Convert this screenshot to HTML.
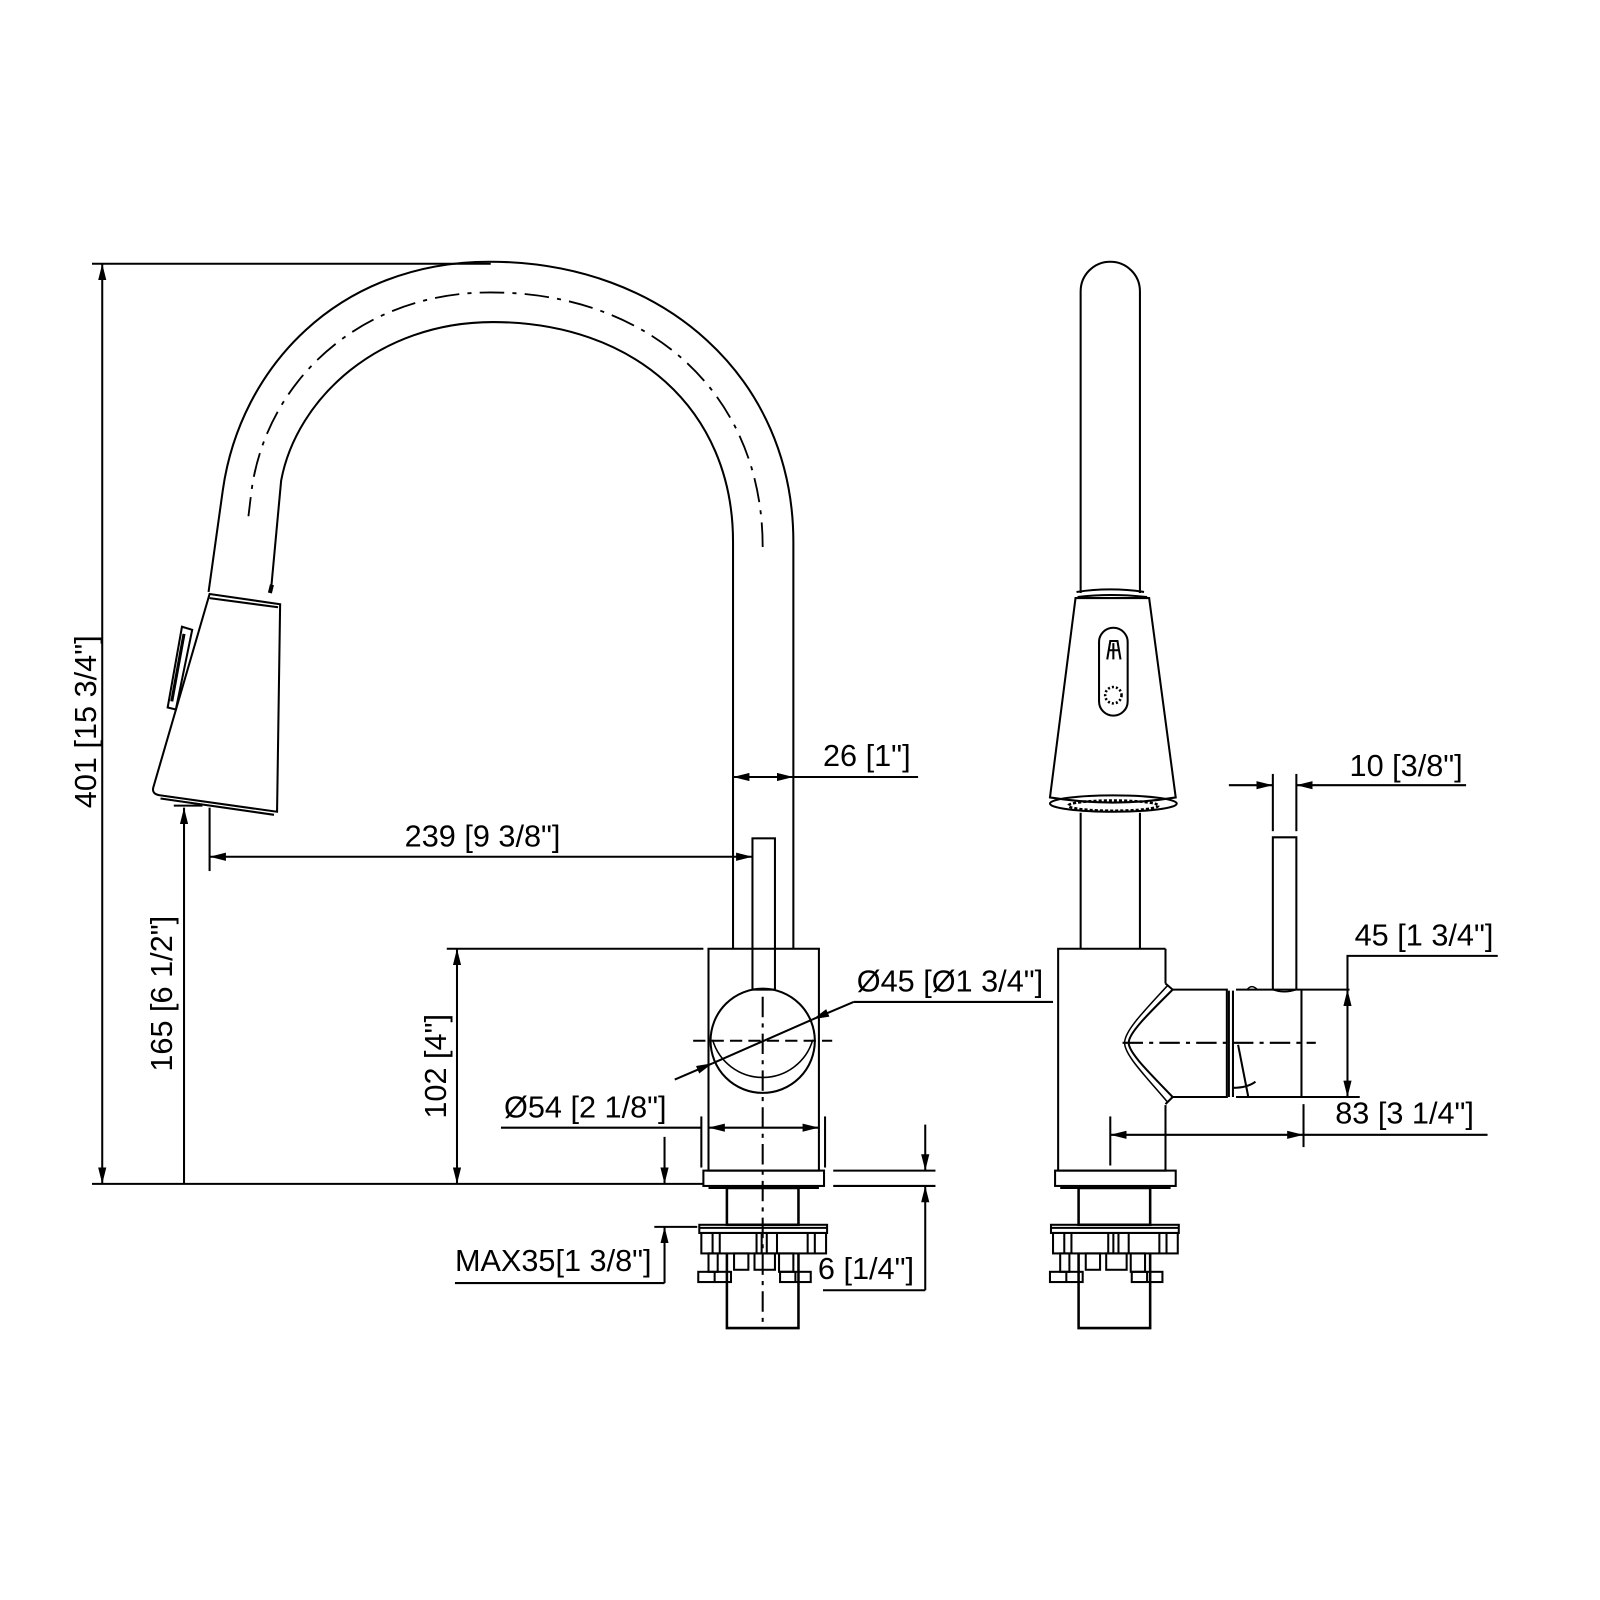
<!DOCTYPE html>
<html><head><meta charset="utf-8"><style>html,body{margin:0;padding:0;background:#fff}svg{display:block}text{font-family:"Liberation Sans",sans-serif;font-size:30px;fill:#000}</style></head>
<body>
<svg width="1600" height="1600" viewBox="0 0 1565 1565" xmlns="http://www.w3.org/2000/svg">
<defs>
<marker id="a" viewBox="0 0 16 8" refX="16" refY="4" markerWidth="16" markerHeight="8" markerUnits="userSpaceOnUse" orient="auto-start-reverse"><path d="M0,0 L16,4 L0,8 Z" fill="#000"/></marker>
<g id="mount" fill="none" stroke="#000" stroke-width="2">
<rect x="688" y="1145" width="118" height="15"/>
<line x1="693" y1="1162" x2="801" y2="1162"/>
<rect x="711" y="1162" width="70" height="36" stroke-width="2.5"/>
<rect x="684" y="1198" width="125" height="8"/>
<line x1="684" y1="1201" x2="809" y2="1201"/>
<rect x="686" y="1206" width="122" height="20"/>
<path d="M697,1206v20M704,1206v20M740,1206v20M745,1206v20M750,1206v20M760,1206v20M790,1206v20M797,1206v20"/>
<rect x="693" y="1226" width="9" height="18"/><rect x="683" y="1244" width="32" height="10"/><line x1="699" y1="1244" x2="699" y2="1254"/>
<rect x="718" y="1226" width="14" height="16"/>
<rect x="738" y="1226" width="20" height="16"/>
<rect x="762" y="1226" width="14" height="18"/><rect x="763" y="1244" width="30" height="10"/><line x1="778" y1="1244" x2="778" y2="1254"/>
<path d="M711,1226 V1299 H781 V1226" stroke-width="2.5"/>
</g>
</defs>
<g fill="none" stroke="#000" stroke-width="2">
<!-- LEFT VIEW -->
<path d="M776,928 L776,530 C776,370 650,256 479,256 C330,256 235,360 218,479 L204,579"/>
<path d="M717,928 L717,530 C717,400 620,315 482,315 C370,315 290,390 275,470 L265,578"/>
<path d="M746,535 C746,385 635,286 480,286 C350,286 260,375 246,480 L243,505" stroke-dasharray="24,8,4,8" stroke-width="1.8"/>
<path d="M266,572 l-2,8" stroke-width="4"/>
<path d="M205,581 L274,591 L271,794 L157,778 Q148,777 150,770 Z"/>
<path d="M205,585 L272,594"/>
<path d="M157,781 L268,797"/>
<path d="M178,613 L188,616 L172,694 L164,692 Z"/>
<path d="M180,620 L168,686" stroke-width="3"/>
<rect x="736" y="820" width="22" height="148"/>
<rect x="693" y="928" width="108" height="217"/>
<circle cx="746" cy="1018" r="51"/>
<path d="M697,1013 A51,51 0 0 0 795,1013" stroke-width="1.5" transform="translate(0,4)"/>
<line x1="678" y1="1018" x2="814" y2="1018" stroke-dasharray="12,6"/>
<line x1="746" y1="975" x2="746" y2="1300" stroke-dasharray="20,6,4,6"/>
<use href="#mount"/>
<!-- left dims -->
<line x1="90" y1="258" x2="480" y2="258"/>
<line x1="90" y1="1158" x2="688" y2="1158"/>
<line x1="100" y1="258" x2="100" y2="1158" marker-start="url(#a)" marker-end="url(#a)"/>
<line x1="170" y1="788" x2="198" y2="788"/>
<line x1="180" y1="790" x2="180" y2="1158" marker-start="url(#a)"/>
<line x1="437" y1="928" x2="688" y2="928"/>
<line x1="447" y1="928" x2="447" y2="1158" marker-start="url(#a)" marker-end="url(#a)"/>
<line x1="205" y1="790" x2="205" y2="852"/>
<line x1="205" y1="838" x2="736" y2="838" marker-start="url(#a)" marker-end="url(#a)"/>
<line x1="717" y1="760" x2="776" y2="760" marker-start="url(#a)" marker-end="url(#a)"/>
<line x1="776" y1="760" x2="898" y2="760"/>
<line x1="660" y1="1056" x2="697" y2="1040" marker-end="url(#a)"/>
<line x1="697" y1="1040" x2="795" y2="997"/>
<line x1="835" y1="980" x2="795" y2="997" marker-end="url(#a)"/>
<line x1="835" y1="980" x2="1030" y2="980"/>
<line x1="686" y1="1092" x2="686" y2="1142"/><line x1="807" y1="1092" x2="807" y2="1142"/>
<line x1="490" y1="1103" x2="686" y2="1103"/>
<line x1="693" y1="1103" x2="801" y2="1103" marker-start="url(#a)" marker-end="url(#a)"/>
<line x1="650" y1="1112" x2="650" y2="1158" marker-end="url(#a)"/>
<line x1="640" y1="1200" x2="682" y2="1200"/>
<line x1="650" y1="1255" x2="650" y2="1200" marker-end="url(#a)"/>
<line x1="445" y1="1255" x2="650" y2="1255"/>
<line x1="815" y1="1145" x2="915" y2="1145"/><line x1="815" y1="1160" x2="915" y2="1160"/>
<line x1="905" y1="1100" x2="905" y2="1145" marker-end="url(#a)"/>
<line x1="905" y1="1262" x2="905" y2="1160" marker-end="url(#a)"/>
<line x1="805" y1="1262" x2="905" y2="1262"/>

<!-- RIGHT VIEW -->
<path d="M1057,580 L1057,285 A29,29 0 0 1 1115,285 L1115,580"/>
<path d="M1053,579 Q1086,574 1119,579 M1054,584 Q1086,580 1122,584"/>
<path d="M1052,585 L1124,585 L1150,780 Q1089,790 1027,780 Z"/>
<ellipse cx="1089" cy="786" rx="62" ry="8"/>
<ellipse cx="1089" cy="788" rx="44" ry="5" stroke-dasharray="3,2" stroke-width="2.5"/>
<rect x="1075" y="614" width="28" height="86" rx="14"/>
<path d="M1083,645 L1086,627 H1093 L1096,645 M1089,629 V645 M1085,636 H1094" stroke-width="2"/>
<circle cx="1089" cy="680" r="8" stroke-dasharray="2,2" stroke-width="2.5"/>
<line x1="1057" y1="795" x2="1057" y2="928"/><line x1="1115" y1="795" x2="1115" y2="928"/>
<path d="M1140,928 H1035 V1145 H1140 V1081"/>
<path d="M1140,928 V962"/>
<path d="M1140,962 L1147,968 L1200,968 L1200,1073 L1147,1073 L1140,1080"/>
<path d="M1147,968 C1125,990 1104,1010 1104,1020 C1104,1030 1125,1050 1147,1073"/>
<path d="M1142,964 C1120,988 1100,1008 1100,1020 C1100,1032 1120,1052 1142,1078" stroke-width="1.5"/>
<path d="M1202,969 V1073 M1206,969 V1073 M1206,1064 Q1220,1064 1228,1058"/>
<path d="M1209,968 H1320 M1209,1073 H1330 M1273,968 V1073 M1211,1022 L1221,1073"/>
<path d="M1220,968 q4,-6 10,0" stroke-width="1.5"/>
<path d="M1245,968 V819 H1268 V968"/>
<path d="M1245,968 q11,4 23,0" stroke-width="1.5"/>
<line x1="1098" y1="1020" x2="1287" y2="1020" stroke-dasharray="20,6,4,6"/>
<use href="#mount" transform="translate(344,0)"/>
<!-- right dims -->
<line x1="1245" y1="757" x2="1245" y2="813"/><line x1="1268" y1="757" x2="1268" y2="813"/>
<line x1="1202" y1="768" x2="1245" y2="768" marker-end="url(#a)"/>
<line x1="1434" y1="768" x2="1268" y2="768" marker-end="url(#a)"/>
<line x1="1318" y1="968" x2="1318" y2="1073" marker-start="url(#a)" marker-end="url(#a)"/>
<path d="M1318,968 V935 H1465"/>
<line x1="1086" y1="1092" x2="1086" y2="1140"/>
<line x1="1275" y1="1080" x2="1275" y2="1122"/>
<line x1="1086" y1="1110" x2="1275" y2="1110" marker-start="url(#a)" marker-end="url(#a)"/>
<line x1="1275" y1="1110" x2="1455" y2="1110"/>
</g>
<g>
<text transform="translate(94,706) rotate(-90)" text-anchor="middle">401 [15 3/4"]</text>
<text transform="translate(168,972) rotate(-90)" text-anchor="middle">165 [6 1/2"]</text>
<text transform="translate(436,1043) rotate(-90)" text-anchor="middle">102 [4"]</text>
<text x="472" y="828" text-anchor="middle">239 [9 3/8"]</text>
<text x="805" y="749">26 [1"]</text>
<text x="838" y="970">Ø45 [Ø1 3/4"]</text>
<text x="493" y="1093">Ø54 [2 1/8"]</text>
<text x="445" y="1243">MAX35[1 3/8"]</text>
<text x="800" y="1251">6 [1/4"]</text>
<text x="1320" y="759">10 [3/8"]</text>
<text x="1325" y="925">45 [1 3/4"]</text>
<text x="1306" y="1099">83 [3 1/4"]</text>
</g>
</svg>
</body></html>
